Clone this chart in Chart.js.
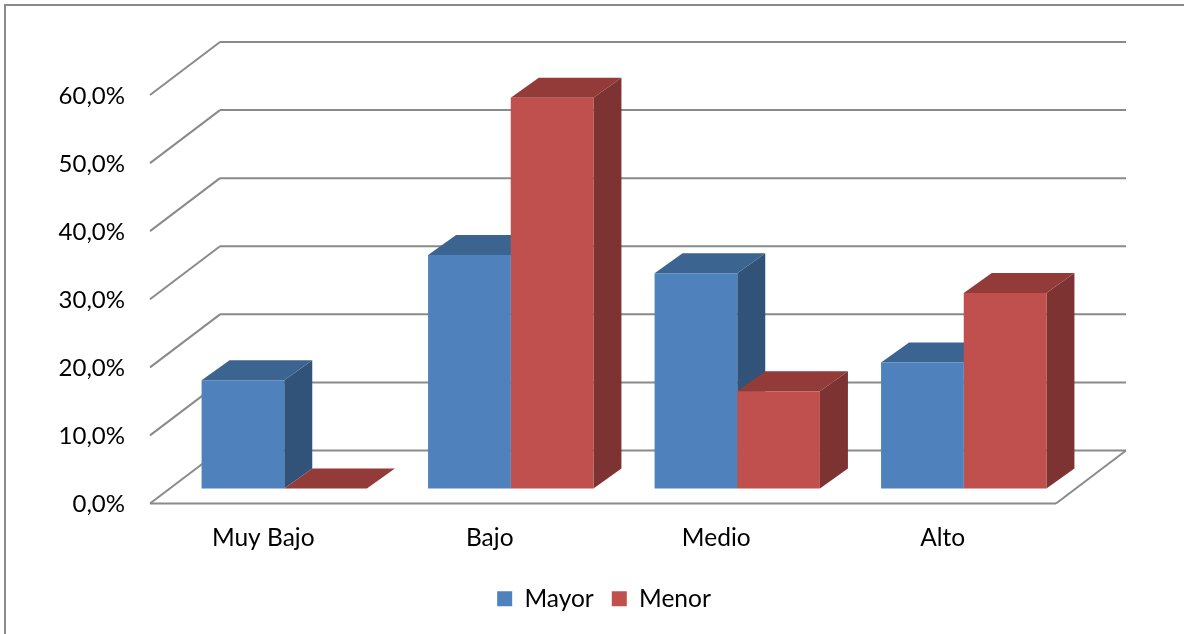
<!DOCTYPE html>
<html lang="es">
<head>
<meta charset="utf-8">
<title>Mayor y Menor</title>
<script src="https://cdn.jsdelivr.net/npm/chart.js@4/dist/chart.umd.min.js"></script>
<style>
  html, body { margin: 0; background: #fff; }
  canvas { display: block; }
</style>
</head>
<body>
<canvas id="grafico" width="1184" height="634"></canvas>
<script>
// Datos
const categorias = ['Muy Bajo', 'Bajo', 'Medio', 'Alto'];
const mayor = [15.9, 34.3, 31.6, 18.5];
const menor = [0, 57.4, 14.3, 28.7];
const etiquetasY = ['0,0%', '10,0%', '20,0%', '30,0%', '40,0%', '50,0%', '60,0%'];

const GRIS = '#8a8a8a';
const FONDO = { x: 70, y: -53 };   // profundidad de piso y paredes
const BARRA = { x: 28, y: -20 };   // profundidad de cada barra
const DESP = { x: 21, y: -15 };    // barras separadas del plano frontal

function poligono(ctx, color, puntos) {
    ctx.fillStyle = color;
    ctx.beginPath();
    puntos.forEach(function (p, i) {
        if (i === 0) ctx.moveTo(p[0], p[1]);
        else ctx.lineTo(p[0], p[1]);
    });
    ctx.closePath();
    ctx.fill();
}

function linea(ctx, x1, y1, x2, y2) {
    ctx.beginPath();
    ctx.moveTo(x1, y1);
    ctx.lineTo(x2, y2);
    ctx.stroke();
}

// Marco, paredes y piso en perspectiva, a partir de las escalas
const paredes = {
    id: 'paredes',
    beforeDatasetsDraw(chart) {
        const ctx = chart.ctx;
        const area = chart.chartArea;
        const y = chart.scales.y;
        ctx.save();
        ctx.strokeStyle = GRIS;
        ctx.lineWidth = 2;
        ctx.beginPath();
        ctx.moveTo(5, 634);
        ctx.lineTo(5, 5);
        ctx.lineTo(1184, 5);
        ctx.stroke();
        etiquetasY.forEach(function (_, i) {
            const py = y.getPixelForValue(i * 10);
            linea(ctx, area.left, py, area.left + FONDO.x, py + FONDO.y);
            linea(ctx, area.left + FONDO.x, py + FONDO.y, area.right + FONDO.x, py + FONDO.y);
        });
        linea(ctx, area.left, area.bottom, area.right, area.bottom);
        linea(ctx, area.right, area.bottom, area.right + FONDO.x, area.bottom + FONDO.y);
        ctx.restore();
    }
};

// Caras superior y lateral de cada barra; la cara frontal la pinta Chart.js
const caras = {
    id: 'caras',
    beforeDatasetsDraw(chart) {
        const ctx = chart.ctx;
        ctx.save();
        ctx.translate(DESP.x, DESP.y);
        categorias.forEach(function (_, i) {
            chart.data.datasets.forEach(function (ds, d) {
                const b = chart.getDatasetMeta(d).data[i];
                const izq = b.x - b.width / 2;
                const der = b.x + b.width / 2;
                poligono(ctx, ds.colorLado, [
                    [der, b.y], [der + BARRA.x, b.y + BARRA.y],
                    [der + BARRA.x, b.base + BARRA.y], [der, b.base]
                ]);
                poligono(ctx, ds.colorTecho, [
                    [izq, b.y], [izq + BARRA.x, b.y + BARRA.y],
                    [der + BARRA.x, b.y + BARRA.y], [der, b.y]
                ]);
            });
        });
        ctx.restore();
    },
    beforeDatasetDraw(chart) {
        chart.ctx.save();
        chart.ctx.translate(DESP.x, DESP.y);
    },
    afterDatasetDraw(chart) {
        chart.ctx.restore();
    },
    // la leyenda no esta centrada en el lienzo
    afterLayout(chart) {
        const l = chart.legend;
        l.left += 76;
        l.right += 76;
    }
};

Chart.defaults.font.family = 'Lato, "Open Sans", sans-serif';
Chart.defaults.font.size = 24.5;
Chart.defaults.color = '#000';

new Chart(document.getElementById('grafico'), {
    type: 'bar',
    data: {
        labels: categorias,
        datasets: [
            { label: 'Mayor', data: mayor, backgroundColor: '#4f81bd', colorTecho: '#3c6490', colorLado: '#325379', clip: false },
            { label: 'Menor', data: menor, backgroundColor: '#c0504d', colorTecho: '#923b39', colorLado: '#7d3331', clip: false }
        ]
    },
    options: {
        responsive: false,
        animation: false,
        layout: { padding: { top: 95, right: 128, bottom: 13 } },
        datasets: { bar: { barPercentage: 1, categoryPercentage: 0.73 } },
        scales: {
            x: {
                grid: { display: false },
                border: { display: false },
                ticks: { padding: 12, maxRotation: 0 },
                afterFit(scale) { scale.height = 65; }
            },
            y: {
                min: 0,
                max: 60,
                grid: { display: false, drawTicks: false },
                border: { display: false },
                ticks: {
                    stepSize: 10,
                    padding: 25,
                    labelOffset: 1,
                    font: { size: 24 },
                    callback: function (v) { return etiquetasY[v / 10]; }
                },
                afterFit(scale) { scale.width = 150; }
            }
        },
        plugins: {
            tooltip: { enabled: false },
            legend: {
                position: 'bottom',
                labels: { boxWidth: 15, boxHeight: 15, padding: 18 }
            }
        }
    },
    plugins: [paredes, caras]
});
</script>
</body>
</html>
